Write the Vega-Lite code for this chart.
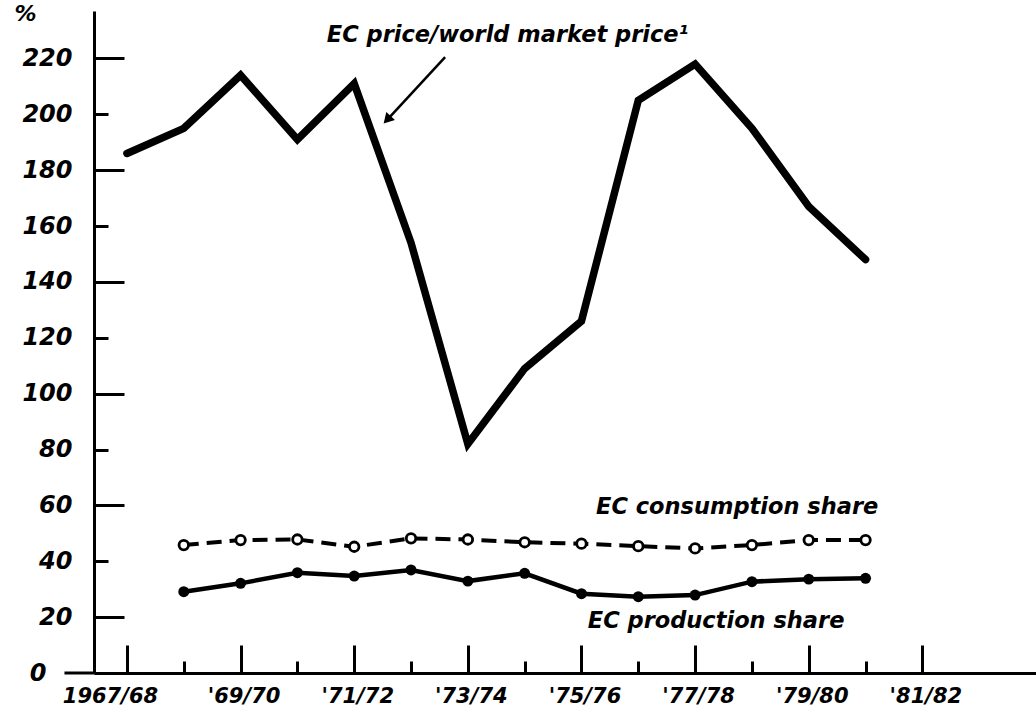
{
  "$schema": "https://vega.github.io/schema/vega-lite/v6.json",
  "width": 942,
  "height": 662,
  "autosize": {"type": "none"},
  "padding": {"left": 94, "top": 11, "right": 0, "bottom": 45},
  "background": "white",
  "config": {
    "view": {"stroke": null},
    "font": "DejaVu Sans",
    "axis": {
      "grid": false,
      "domainColor": "black",
      "domainWidth": 3,
      "tickColor": "black",
      "tickWidth": 3,
      "labelColor": "black",
      "labelFont": "DejaVu Sans",
      "labelFontStyle": "italic",
      "labelFontWeight": "bold"
    }
  },
  "datasets": {
    "series": [
      {"series": "price", "year": 1967, "value": 186},
      {"series": "price", "year": 1968, "value": 195},
      {"series": "price", "year": 1969, "value": 214},
      {"series": "price", "year": 1970, "value": 191},
      {"series": "price", "year": 1971, "value": 211},
      {"series": "price", "year": 1972, "value": 154},
      {"series": "price", "year": 1973, "value": 82},
      {"series": "price", "year": 1974, "value": 109},
      {"series": "price", "year": 1975, "value": 126},
      {"series": "price", "year": 1976, "value": 205},
      {"series": "price", "year": 1977, "value": 218},
      {"series": "price", "year": 1978, "value": 195},
      {"series": "price", "year": 1979, "value": 167},
      {"series": "price", "year": 1980, "value": 148},
      {"series": "consumption", "year": 1968, "value": 45.8},
      {"series": "consumption", "year": 1969, "value": 47.6},
      {"series": "consumption", "year": 1970, "value": 47.8},
      {"series": "consumption", "year": 1971, "value": 45.2},
      {"series": "consumption", "year": 1972, "value": 48.2},
      {"series": "consumption", "year": 1973, "value": 47.8},
      {"series": "consumption", "year": 1974, "value": 46.8},
      {"series": "consumption", "year": 1975, "value": 46.3},
      {"series": "consumption", "year": 1976, "value": 45.4},
      {"series": "consumption", "year": 1977, "value": 44.6},
      {"series": "consumption", "year": 1978, "value": 45.8},
      {"series": "consumption", "year": 1979, "value": 47.6},
      {"series": "consumption", "year": 1980, "value": 47.6},
      {"series": "production", "year": 1968, "value": 29.1},
      {"series": "production", "year": 1969, "value": 32.1},
      {"series": "production", "year": 1970, "value": 35.9},
      {"series": "production", "year": 1971, "value": 34.7},
      {"series": "production", "year": 1972, "value": 36.9},
      {"series": "production", "year": 1973, "value": 32.9},
      {"series": "production", "year": 1974, "value": 35.7},
      {"series": "production", "year": 1975, "value": 28.4},
      {"series": "production", "year": 1976, "value": 27.3},
      {"series": "production", "year": 1977, "value": 27.9},
      {"series": "production", "year": 1978, "value": 32.7},
      {"series": "production", "year": 1979, "value": 33.6},
      {"series": "production", "year": 1980, "value": 33.9}
    ],
    "notes": [
      {"label": "EC price/world market price¹", "year": 1973.7, "value": 228.3},
      {"label": "EC consumption share", "year": 1977.74, "value": 59.4},
      {"label": "EC production share", "year": 1977.37, "value": 18.6}
    ],
    "arrow": [
      {"year": 1972.60, "value": 220.5, "year2": 1971.6, "value2": 198.5}
    ],
    "axisext": [
      {"year": 1965.9, "value": 0, "year2": 1966.42, "value2": 0}
    ]
  },
  "encoding": {
    "x": {
      "field": "year",
      "type": "quantitative",
      "scale": {"domain": [1966.42, 1983], "nice": false, "zero": false},
      "axis": {
        "title": null,
        "values": [1967, 1968, 1969, 1970, 1971, 1972, 1973, 1974, 1975, 1976, 1977, 1978, 1979, 1980, 1981],
        "tickSize": {"condition": {"test": "datum.value % 2 == 1", "value": -28}, "value": -12},
        "labelPadding": {"condition": {"test": "datum.value % 2 == 1", "value": 40}, "value": 20},
        "labelFontSize": 21,
        "labelBaseline": "top",
        "labelOffset": {"condition": {"test": "datum.value == 1967", "value": -17}, "value": 3},
        "labelExpr": "datum.value == 1967 ? '1967/68' : (datum.value % 2 == 1 ? \"'\" + slice(toString(datum.value), 2) + '/' + slice(toString(datum.value + 1), 2) : '')"
      }
    },
    "y": {
      "field": "value",
      "type": "quantitative",
      "scale": {"domain": [0, 237], "nice": false, "zero": true},
      "axis": {
        "title": "%",
        "titleAngle": 0,
        "titleX": -80,
        "titleY": 2,
        "titleAlign": "left",
        "titleBaseline": "middle",
        "titleFont": "DejaVu Sans",
        "titleFontSize": 22,
        "titleFontStyle": "italic",
        "titleFontWeight": "bold",
        "titleColor": "black",
        "values": [0, 20, 40, 60, 80, 100, 120, 140, 160, 180, 200, 220],
        "tickSize": {"condition": {"test": "datum.value % 40 == 20", "value": -30}, "value": -14},
        "labelPadding": {"condition": [{"test": "datum.value == 0", "value": 62}, {"test": "datum.value % 40 == 20", "value": 52}], "value": 36},
        "labelFontSize": 24
      }
    }
  },
  "layer": [
    {
      "data": {"name": "series"},
      "transform": [{"filter": "datum.series == 'price'"}],
      "mark": {"type": "line", "color": "black", "strokeWidth": 7.5, "strokeJoin": "miter", "strokeCap": "round"}
    },
    {
      "data": {"name": "series"},
      "transform": [{"filter": "datum.series == 'consumption'"}],
      "mark": {"type": "line", "color": "black", "strokeWidth": 4, "strokeDash": [15, 8]}
    },
    {
      "data": {"name": "series"},
      "transform": [{"filter": "datum.series == 'consumption'"}],
      "mark": {"type": "point", "shape": "circle", "filled": true, "fill": "white", "stroke": "black", "strokeWidth": 2.8, "size": 90, "opacity": 1}
    },
    {
      "data": {"name": "series"},
      "transform": [{"filter": "datum.series == 'production'"}],
      "mark": {"type": "line", "color": "black", "strokeWidth": 4.5}
    },
    {
      "data": {"name": "series"},
      "transform": [{"filter": "datum.series == 'production'"}],
      "mark": {"type": "point", "shape": "circle", "filled": true, "color": "black", "size": 120, "opacity": 1}
    },
    {
      "data": {"name": "notes"},
      "mark": {"type": "text", "font": "DejaVu Sans", "fontSize": 22.5, "fontStyle": "italic", "fontWeight": "bold", "color": "black", "align": "center", "baseline": "middle"},
      "encoding": {"text": {"field": "label"}}
    },
    {
      "data": {"name": "arrow"},
      "mark": {"type": "rule", "color": "black", "strokeWidth": 2.5},
      "encoding": {"x2": {"field": "year2"}, "y2": {"field": "value2"}}
    },
    {
      "data": {"name": "arrow"},
      "mark": {"type": "point", "shape": "triangle", "filled": true, "color": "black", "size": 140, "angle": 223, "opacity": 1},
      "encoding": {"x": {"field": "year2", "type": "quantitative"}, "y": {"field": "value2", "type": "quantitative"}}
    },
    {
      "data": {"name": "axisext"},
      "mark": {"type": "rule", "color": "black", "strokeWidth": 3},
      "encoding": {"x2": {"field": "year2"}, "y2": {"field": "value2"}}
    }
  ]
}
